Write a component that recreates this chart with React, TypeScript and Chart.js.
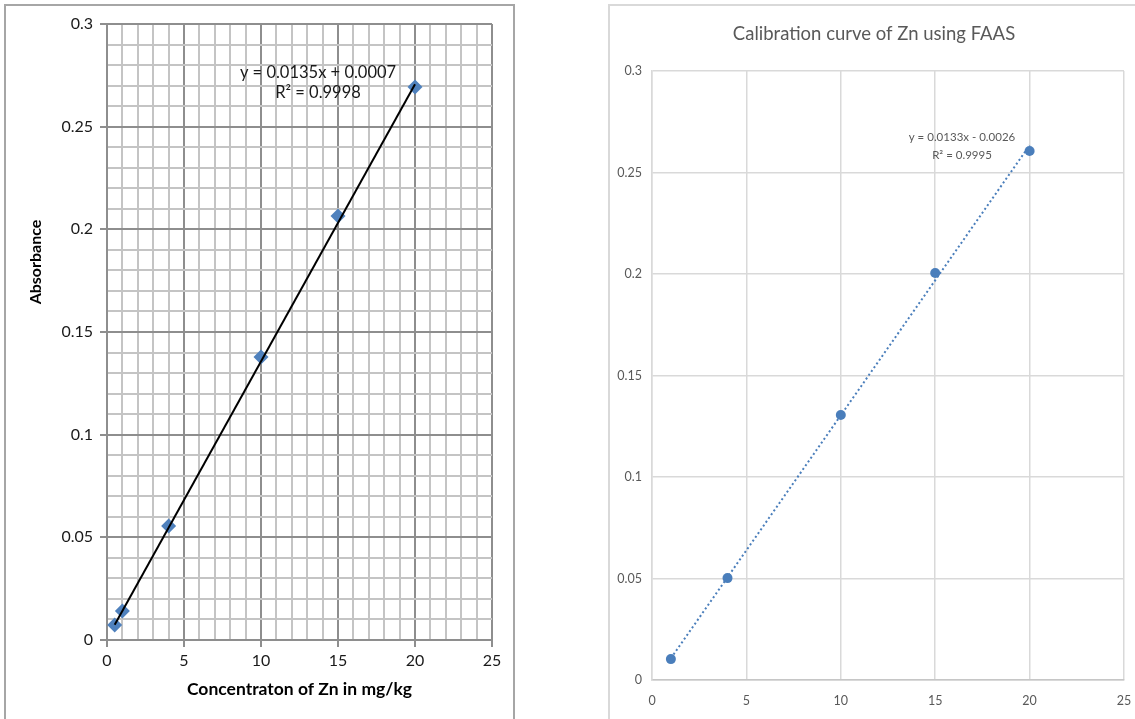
import React, { useEffect, useRef } from 'react';
import { Chart, registerables } from 'chart.js';

Chart.register(...registerables);

// Left panel: standards and absorbance readings
const leftConcentration = [0.5, 1, 4, 10, 15, 20];
const leftAbsorbance = [0.0073, 0.0141, 0.0555, 0.1378, 0.2065, 0.2693];
const leftSlope = 0.0135;
const leftIntercept = 0.0007;
const leftR2 = '0.9998';

// Right panel: FAAS calibration standards
const rightConcentration = [1, 4, 10, 15, 20];
const rightAbsorbance = [0.0103, 0.0502, 0.1305, 0.2005, 0.2606];
const rightSlope = 0.0133;
const rightIntercept = -0.0026;
const rightR2 = '0.9995';

// Axis ranges
const xRange = [0, 25];
const yRange = [0, 0.3];

const FONT = 'Lato, "Open Sans", "DejaVu Sans", sans-serif';

const fmtNum = (v: number) => String(parseFloat(v.toFixed(2)));
const fmtSigned = (v: number) =>
  v < 0 ? `- ${Math.abs(v).toFixed(4)}` : `+ ${v.toFixed(4)}`;

type TextItem = {
  text: string;
  x: number;
  y: number;
  font: string;
  color: string;
  rotate?: number;
};

const textPlugin = (items: TextItem[]) => ({
  id: 'panelText',
  afterDraw(chart: Chart) {
    const ctx = chart.ctx;
    items.forEach((it) => {
      ctx.save();
      ctx.translate(it.x, it.y);
      if (it.rotate) ctx.rotate(it.rotate);
      ctx.font = it.font;
      ctx.fillStyle = it.color;
      ctx.textAlign = 'center';
      ctx.textBaseline = 'middle';
      ctx.fillText(it.text, 0, 0);
      ctx.restore();
    });
  },
});

const trendPoints = (xs: number[], slope: number, intercept: number) => {
  const x0 = Math.min(...xs);
  const x1 = Math.max(...xs);
  return [
    { x: x0, y: slope * x0 + intercept },
    { x: x1, y: slope * x1 + intercept },
  ];
};

function LeftChart() {
  const ref = useRef<HTMLCanvasElement>(null);
  useEffect(() => {
    if (!ref.current) return;
    const minor = '#c4c4c4';
    const major = '#8e8e8e';
    const isMajorY = (v: number) => Math.round(v * 100) % 5 === 0;
    const isMajorX = (v: number) => Math.round(v) % 5 === 0;
    const chart = new Chart(ref.current, {
      type: 'scatter',
      data: {
        datasets: [
          {
            label: 'Linear fit',
            data: trendPoints(leftConcentration, leftSlope, leftIntercept),
            showLine: true,
            borderColor: '#000000',
            borderWidth: 2,
            pointRadius: 0,
          },
          {
            label: 'Absorbance',
            data: leftConcentration.map((x, i) => ({ x, y: leftAbsorbance[i] })),
            pointStyle: 'rectRot',
            pointRadius: 7.5,
            backgroundColor: '#4f81bd',
            borderColor: '#4f81bd',
            borderWidth: 0,
          },
        ],
      },
      options: {
        animation: false,
        responsive: false,
        layout: { padding: { top: 24, right: 23, left: 0, bottom: 0 } },
        plugins: { legend: { display: false }, tooltip: { enabled: false }, title: { display: false } },
        scales: {
          x: {
            type: 'linear',
            min: xRange[0],
            max: xRange[1],
            afterFit: (s: any) => { s.height = 79; },
            ticks: {
              stepSize: 1,
              autoSkip: false,
              maxRotation: 0,
              padding: 4,
              color: '#1a1a1a',
              font: { family: FONT, size: 16 },
              callback: (v: any) => (isMajorX(Number(v)) ? String(v) : ''),
            },
            grid: {
              color: (c: any) => (isMajorX(c.tick.value) ? major : minor),
              tickColor: (c: any) => (isMajorX(c.tick.value) ? major : 'rgba(0,0,0,0)'),
              lineWidth: 2,
              tickLength: 7,
            },
            border: { color: major, width: 2 },
            title: {
              display: true,
              text: 'Concentraton of Zn in mg/kg',
              color: '#000000',
              font: { family: FONT, size: 17.5, weight: 'bold' },
              padding: { bottom: 19, top: 0 },
            },
          },
          y: {
            type: 'linear',
            min: yRange[0],
            max: yRange[1],
            afterFit: (s: any) => { s.width = 107; },
            ticks: {
              stepSize: 0.01,
              autoSkip: false,
              padding: 7,
              color: '#1a1a1a',
              font: { family: FONT, size: 16 },
              callback: (v: any) => (isMajorY(Number(v)) ? fmtNum(Number(v)) : ''),
            },
            grid: {
              color: (c: any) => (isMajorY(c.tick.value) ? major : minor),
              tickColor: (c: any) => (isMajorY(c.tick.value) ? major : 'rgba(0,0,0,0)'),
              lineWidth: 2,
              tickLength: 7,
            },
            border: { color: major, width: 2 },
          },
        },
      },
      plugins: [
        textPlugin([
          { text: 'Absorbance', x: 36, y: 262, rotate: -Math.PI / 2, font: `bold 16px ${FONT}`, color: '#000000' },
          { text: `y = ${leftSlope}x ${fmtSigned(leftIntercept)}`, x: 318, y: 73, font: `16.5px ${FONT}`, color: '#1a1a1a' },
          { text: `R² = ${leftR2}`, x: 318, y: 93, font: `16.5px ${FONT}`, color: '#1a1a1a' },
        ]),
      ],
    } as any);
    return () => chart.destroy();
  }, []);
  return (
    <canvas
      ref={ref}
      width={515}
      height={719}
      style={{ position: 'absolute', left: 0, top: 0, width: 515, height: 719 }}
    />
  );
}

function RightChart() {
  const ref = useRef<HTMLCanvasElement>(null);
  useEffect(() => {
    if (!ref.current) return;
    const grid = '#d9d9d9';
    const blue = '#4a7ebb';
    const chart = new Chart(ref.current, {
      type: 'scatter',
      data: {
        datasets: [
          {
            label: 'Absorbance',
            data: rightConcentration.map((x, i) => ({ x, y: rightAbsorbance[i] })),
            pointStyle: 'circle',
            pointRadius: 5,
            backgroundColor: blue,
            borderColor: blue,
            borderWidth: 0,
          },
          {
            label: 'Linear fit',
            data: trendPoints(rightConcentration, rightSlope, rightIntercept),
            showLine: true,
            borderColor: blue,
            borderWidth: 2,
            borderDash: [2, 2.6],
            pointRadius: 0,
          },
        ],
      },
      options: {
        animation: false,
        responsive: false,
        layout: { padding: { top: 71, right: 29, left: 0, bottom: 0 } },
        plugins: { legend: { display: false }, tooltip: { enabled: false }, title: { display: false } },
        scales: {
          x: {
            type: 'linear',
            min: xRange[0],
            max: xRange[1],
            afterFit: (s: any) => { s.height = 39; },
            ticks: {
              stepSize: 5,
              autoSkip: false,
              maxRotation: 0,
              padding: 13,
              color: '#595959',
              font: { family: FONT, size: 12.5 },
            },
            grid: { color: grid, lineWidth: 1.5, drawTicks: false },
            border: { color: '#c6c6c6', width: 1.5 },
          },
          y: {
            type: 'linear',
            min: yRange[0],
            max: yRange[1],
            afterFit: (s: any) => { s.width = 44; },
            ticks: {
              stepSize: 0.05,
              autoSkip: false,
              padding: 10,
              color: '#595959',
              font: { family: FONT, size: 12.5 },
              callback: (v: any) => fmtNum(Number(v)),
            },
            grid: { color: grid, lineWidth: 1.5, drawTicks: false },
            border: { color: grid, width: 1.5 },
          },
        },
      },
      plugins: [
        textPlugin([
          { text: 'Calibration curve of Zn using FAAS', x: 266, y: 34, font: `18.5px ${FONT}`, color: '#595959' },
          { text: `y = ${rightSlope}x ${fmtSigned(rightIntercept)}`, x: 354, y: 137, font: `11.5px ${FONT}`, color: '#595959' },
          { text: `R² = ${rightR2}`, x: 354, y: 155, font: `11.5px ${FONT}`, color: '#595959' },
        ]),
      ],
    } as any);
    return () => chart.destroy();
  }, []);
  return (
    <canvas
      ref={ref}
      width={545}
      height={719}
      style={{ position: 'absolute', left: 608, top: 0, width: 545, height: 719 }}
    />
  );
}

export default function App() {
  return (
    <div
      style={{
        position: 'absolute',
        left: 0,
        top: 0,
        width: 1135,
        height: 719,
        overflow: 'hidden',
        background: '#ffffff',
      }}
    >
      <div
        style={{
          position: 'absolute',
          left: 4,
          top: 4,
          width: 511,
          height: 740,
          boxSizing: 'border-box',
          border: '2px solid #a6a6a6',
        }}
      />
      <div
        style={{
          position: 'absolute',
          left: 608,
          top: 4,
          width: 560,
          height: 740,
          boxSizing: 'border-box',
          border: '2px solid #d9d9d9',
        }}
      />
      <LeftChart />
      <RightChart />
    </div>
  );
}
